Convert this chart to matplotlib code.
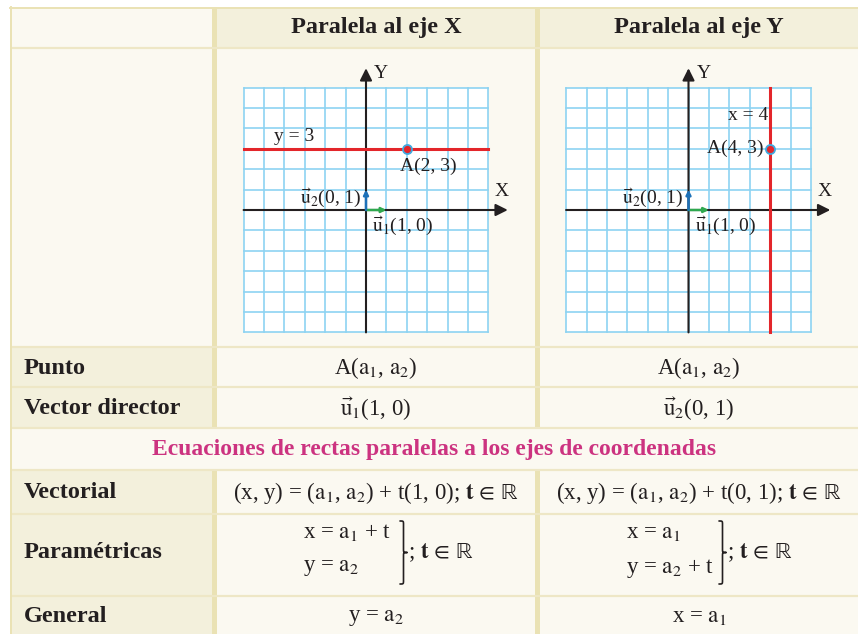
import matplotlib
matplotlib.use("Agg")
import matplotlib.pyplot as plt
from matplotlib.patches import Rectangle, PathPatch
from matplotlib.path import Path

plt.rcParams["font.family"] = ["Liberation Serif", "DejaVu Serif"]
plt.rcParams["mathtext.fontset"] = "stix"
plt.rcParams["mathtext.default"] = "rm"

# ---- table texts ----
headers = ["Paralela al eje X", "Paralela al eje Y"]
row_labels = ["Punto", "Vector director", "Vectorial", "Paramétricas", "General"]
section_title = "Ecuaciones de rectas paralelas a los ejes de coordenadas"
punto = [r"A($\mathrm{a}_1$, $\mathrm{a}_2$)", r"A($\mathrm{a}_1$, $\mathrm{a}_2$)"]
director = [r"$\vec{\mathrm{u}}_1$(1, 0)", r"$\vec{\mathrm{u}}_2$(0, 1)"]
vectorial = [
    r"(x, y) = ($\mathrm{a}_1$, $\mathrm{a}_2$) + t(1, 0); $\mathbf{t}\,\in\,\mathbb{R}$",
    r"(x, y) = ($\mathrm{a}_1$, $\mathrm{a}_2$) + t(0, 1); $\mathbf{t}\,\in\,\mathbb{R}$",
]
param_x = [r"x = $\mathrm{a}_1$ + t", r"x = $\mathrm{a}_1$"]
param_y = [r"y = $\mathrm{a}_2$", r"y = $\mathrm{a}_2$ + t"]
param_t = r"; $\mathbf{t}\,\in\,\mathbb{R}$"
general = [r"y = $\mathrm{a}_2$", r"x = $\mathrm{a}_1$"]

# ---- diagram data ----
grid_lim = 6
line_kind = ["h", "v"]
line_label = ["y = 3", "x = 4"]
point_A = [(2, 3), (4, 3)]
point_label = ["A(2, 3)", "A(4, 3)"]
u1 = (1, 0)
u2 = (0, 1)
u1_label = r"$\vec{\mathrm{u}}_1$(1, 0)"
u2_label = r"$\vec{\mathrm{u}}_2$(0, 1)"

W, H = 858, 634
DARK = "#231F20"
CREAM = "#FBF9F1"
TAN = "#F3F0DC"
SEP = "#EAE2B4"
HLINE = "#EEE7C6"
RED = "#E3262B"
GRID = "#8DD3F2"

fig = plt.figure(figsize=(W / 100, H / 100), dpi=100)
fig.patch.set_facecolor("white")
ax = fig.add_axes([0, 0, 1, 1])
ax.set_xlim(0, W)
ax.set_ylim(H, 0)
ax.axis("off")

# table geometry (pixels)
x_left, x_sep1, x_c1, x_sep2, x_c2 = 10, 212, 217, 535, 540
y_top = 7
rows = [7, 47.5, 347, 387, 428, 470, 514, 596, 634]
c1_mid = (x_c1 + x_sep2) / 2
c2_mid = (x_c2 + W) / 2

ax.add_patch(Rectangle((x_left, y_top), W - x_left, H - y_top, fc=CREAM, ec="none"))
ax.add_patch(Rectangle((x_c1, rows[0]), W - x_c1, rows[1] - rows[0], fc=TAN, ec="none"))
for i in [2, 3, 5, 6, 7]:
    ax.add_patch(Rectangle((x_left, rows[i]), x_sep1 - x_left, rows[i + 1] - rows[i],
                           fc=TAN, ec="none"))

# vertical separators (not across section title row)
for xs in [x_sep1, x_sep2]:
    for y0, y1 in [(rows[0], rows[4]), (rows[5], rows[8])]:
        ax.add_patch(Rectangle((xs, y0), 5, y1 - y0, fc=SEP, ec="none"))
for y in rows[1:-1]:
    ax.plot([x_left, W], [y, y], color=HLINE, lw=1.6, solid_capstyle="butt")
ax.plot([x_left + 0.8, x_left + 0.8], [y_top, H], color=SEP, lw=1.4)
ax.plot([x_left, W], [y_top + 0.8, y_top + 0.8], color=SEP, lw=1.4)

# headers
for xm, t in zip([c1_mid, c2_mid], headers):
    ax.text(xm, 28, t, ha="center", va="center", fontsize=17.5, fontweight="bold", color=DARK)

# row labels
label_y = [368, 408, 492, 553, 616]
for y, t in zip(label_y, row_labels):
    ax.text(24, y, t, ha="left", va="center", fontsize=17.5, fontweight="bold", color=DARK)

ax.text((x_left + W) / 2, 449, section_title, ha="center", va="center",
        fontsize=17, fontweight="bold", color="#CC3380")

cell_fs = 16.5
for xm, p, d, v, g in zip([c1_mid, c2_mid], punto, director, vectorial, general):
    ax.text(xm, 368, p, ha="center", va="center", fontsize=cell_fs, color=DARK)
    ax.text(xm, 409, d, ha="center", va="center", fontsize=cell_fs, color=DARK)
    ax.text(xm, 493, v, ha="center", va="center", fontsize=cell_fs, color=DARK)
    ax.text(xm, 617, g, ha="center", va="center", fontsize=cell_fs, color=DARK)


def brace(x, y0, y1, w):
    ym = (y0 + y1) / 2
    xh = x + w / 2
    q = w / 2
    verts = [(x, y0), (xh, y0), (xh, y0), (xh, y0 + q),
             (xh, ym - q),
             (xh, ym), (xh, ym), (x + w, ym),
             (xh, ym), (xh, ym), (xh, ym + q),
             (xh, y1 - q),
             (xh, y1), (xh, y1), (x, y1)]
    codes = [Path.MOVETO, Path.CURVE4, Path.CURVE4, Path.CURVE4,
             Path.LINETO,
             Path.CURVE4, Path.CURVE4, Path.CURVE4,
             Path.CURVE4, Path.CURVE4, Path.CURVE4,
             Path.LINETO,
             Path.CURVE4, Path.CURVE4, Path.CURVE4]
    ax.add_patch(PathPatch(Path(verts, codes), fc="none", ec=DARK, lw=1.2,
                           joinstyle="round", capstyle="round"))


param_left = [303, 626]
brace_x = [400, 719]
for xl, bx, tx, ty in zip(param_left, brace_x, param_x, param_y):
    ax.text(xl, 533, tx, ha="left", va="center", fontsize=cell_fs, color=DARK)
    ax.text(xl, 568, ty, ha="left", va="center", fontsize=cell_fs, color=DARK)
    brace(bx, 521, 584, 7)
    ax.text(bx + 8, 553, param_t, ha="left", va="center", fontsize=cell_fs, color=DARK)

# ---- diagrams ----
cell = 20.4
L = 8
diag_fs = 14
origins = [(366, 210), (688.5, 210)]
for k, (ox, oy) in enumerate(origins):
    left = ox - L * cell
    top = oy - L * cell
    size = 2 * L * cell
    d = fig.add_axes([left / W, 1 - (top + size) / H, size / W, size / H])
    d.set_xlim(-L, L)
    d.set_ylim(-L, L)
    d.axis("off")
    d.patch.set_alpha(0)

    g = grid_lim
    d.add_patch(Rectangle((-g, -g), 2 * g, 2 * g, fc="white", ec="none", zorder=0))
    for v in range(-g, g + 1):
        d.plot([v, v], [-g, g], color=GRID, lw=1.2, zorder=1)
        d.plot([-g, g], [v, v], color=GRID, lw=1.2, zorder=1)

    arrow = dict(arrowstyle="-|>", color=DARK, lw=1.5, shrinkA=0, shrinkB=0, mutation_scale=18)
    d.annotate("", xy=(g + 0.95, 0), xytext=(-g, 0), arrowprops=arrow, zorder=3)
    d.annotate("", xy=(0, g + 0.95), xytext=(0, -g), arrowprops=arrow, zorder=3)
    d.text(0.4, g + 0.7, "Y", ha="left", va="center", fontsize=diag_fs, color=DARK)
    d.text(g + 0.65, 0.9, "X", ha="center", va="center", fontsize=diag_fs, color=DARK)

    ax_, ay_ = point_A[k]
    if line_kind[k] == "h":
        d.plot([-g, g], [ay_, ay_], color=RED, lw=2.2, zorder=4)
        d.text(-4.5, ay_ + 0.58, line_label[k], ha="left", va="center", fontsize=diag_fs, color=DARK)
        d.text(ax_ - 0.35, ay_ - 0.85, point_label[k], ha="left", va="center", fontsize=diag_fs, color=DARK)
    else:
        d.plot([ax_, ax_], [-g, g], color=RED, lw=2.2, zorder=4)
        d.text(ax_ - 0.1, ay_ + 1.62, line_label[k], ha="right", va="center", fontsize=diag_fs, color=DARK)
        d.text(ax_ - 0.3, ay_, point_label[k], ha="right", va="center", fontsize=diag_fs, color=DARK)
    d.plot(ax_, ay_, "o", ms=6.5, mfc=RED, mec="#3FA9E0", mew=1.3, zorder=6)

    d.annotate("", xy=u1, xytext=(0, 0), zorder=5,
               arrowprops=dict(arrowstyle="-|>", color="#2FA84F", lw=1.8,
                               shrinkA=0, shrinkB=0, mutation_scale=7))
    d.annotate("", xy=u2, xytext=(0, 0), zorder=5,
               arrowprops=dict(arrowstyle="-|>", color="#1D71B8", lw=1.8,
                               shrinkA=0, shrinkB=0, mutation_scale=7))
    d.text(-0.25, 0.6, u2_label, ha="right", va="center", fontsize=diag_fs, color=DARK)
    d.text(0.3, -0.75, u1_label, ha="left", va="center", fontsize=diag_fs, color=DARK)

fig.savefig("out.png", dpi=100)
